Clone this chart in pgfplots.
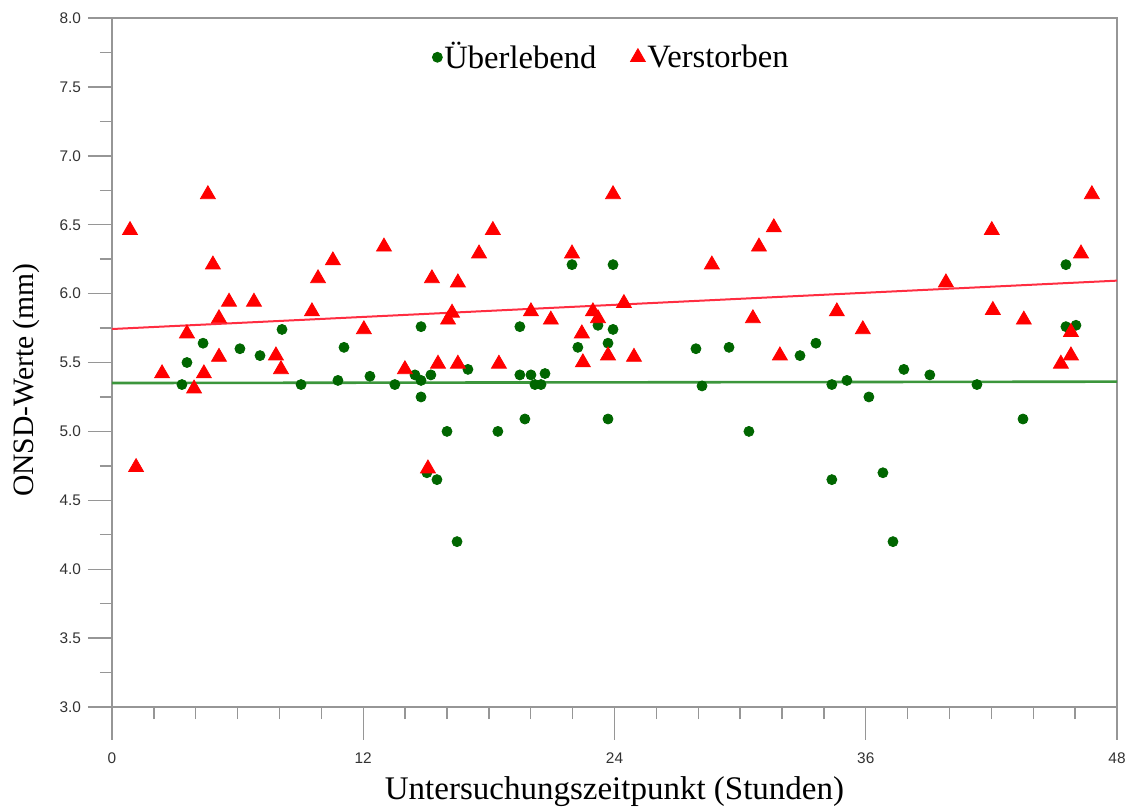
\documentclass[border=0pt]{standalone}
\usepackage{pgfplots}
\pgfplotsset{compat=1.18}
\usepackage{fontspec}
\setmainfont{Liberation Serif}
\newfontfamily\ticksf{Liberation Sans}
\definecolor{dkgreen}{RGB}{0,102,0}
\definecolor{ptred}{RGB}{255,0,0}
\definecolor{linered}{RGB}{255,45,65}
\definecolor{linegreen}{RGB}{60,150,60}
\definecolor{axgray}{RGB}{150,150,150}
\definecolor{tickgray}{RGB}{50,50,50}

\pgfplotstableread{
t v
3.34 5.34
3.58 5.50
4.35 5.64
6.11 5.60
7.07 5.55
8.12 5.74
9.03 5.34
10.79 5.37
11.08 5.61
12.32 5.40
13.51 5.34
14.47 5.41
14.76 5.76
14.76 5.37
14.76 5.25
15.04 4.70
15.23 5.41
15.52 4.65
16.00 5.00
16.48 4.20
17.00 5.45
18.43 5.00
19.48 5.76
19.48 5.41
19.72 5.09
20.01 5.41
20.20 5.34
20.49 5.34
20.68 5.42
21.97 6.21
22.25 5.61
23.21 5.77
23.69 5.64
23.69 5.09
23.93 6.21
23.93 5.74
27.89 5.60
28.18 5.33
29.47 5.61
30.42 5.00
32.86 5.55
33.62 5.64
34.38 5.34
34.38 4.65
35.10 5.37
36.15 5.25
36.82 4.70
37.30 4.20
37.82 5.45
39.06 5.41
41.31 5.34
43.51 5.09
45.56 6.21
45.56 5.76
46.04 5.77
}\surv

\pgfplotstableread{
t v
0.86 6.46
1.15 4.74
2.39 5.42
3.58 5.71
3.92 5.31
4.39 5.42
4.58 6.72
4.82 6.21
5.11 5.82
5.11 5.54
5.59 5.94
6.78 5.94
7.83 5.55
8.07 5.45
9.55 5.87
9.84 6.11
10.55 6.24
12.03 5.74
12.99 6.34
13.99 5.45
15.09 4.73
15.28 6.11
15.57 5.49
16.05 5.81
16.24 5.86
16.52 6.08
16.52 5.49
17.53 6.29
18.19 6.46
18.48 5.49
20.01 5.87
20.96 5.81
21.97 6.29
22.44 5.71
22.49 5.50
22.97 5.87
23.21 5.82
23.69 5.55
23.93 6.72
24.45 5.93
24.93 5.54
28.65 6.21
30.61 5.82
30.90 6.34
31.61 6.48
31.90 5.55
34.62 5.87
35.86 5.74
39.83 6.08
42.02 6.46
42.07 5.88
43.55 5.81
45.32 5.49
45.80 5.55
45.80 5.72
46.28 6.29
46.80 6.72
}\dead

\begin{document}
\begin{tikzpicture}
\begin{axis}[
  scale only axis,
  width=502.5pt, height=344.5pt,
  xmin=0, xmax=48, ymin=3, ymax=8,
  axis line style={draw=axgray, line width=0.7pt},
  xtick={0,12,...,48},
  minor x tick num=5,
  xtick pos=bottom,
  ytick={3,3.5,...,8},
  minor y tick num=1,
  ytick pos=left,
  tick align=outside,
  major tick length=12pt,
  minor tick length=6pt,
  every tick/.style={draw=axgray, line width=0.7pt},
  yticklabel style={font=\ticksf\fontsize{7.7}{9}\selectfont, text=tickgray},
  xticklabel style={font=\ticksf\fontsize{7.7}{9}\selectfont, text=tickgray, yshift=-7.5pt},
  /pgf/number format/assume math mode=true,
  y tick label style={/pgf/number format/.cd, fixed, fixed zerofill, precision=1},
  ylabel={ONSD-Werte (mm)},
  ylabel style={at={(axis description cs:-0.0856,0.4746)}, anchor=center, font=\fontsize{14.8}{18}\selectfont, text=black},
  xlabel={Untersuchungszeitpunkt (Stunden)},
  xlabel style={at={(axis description cs:0.5,-0.1234)}, anchor=center, font=\fontsize{16.5}{20}\selectfont, text=black},
  legend columns=2,
  legend style={at={(axis description cs:0.497,0.943)}, anchor=center, draw=none, fill=none,
    font=\fontsize{16.3}{19}\selectfont, inner sep=0pt,
    /tikz/every even column/.append style={column sep=16pt},
    nodes={inner sep=1pt}},
  legend image code/.code={\draw[#1] plot coordinates {(0pt,0pt)};},
  clip=false,
  unbounded coords=jump,
]
% long major x ticks (every 12 h), drawn below the axis
\addplot[forget plot, draw=axgray, line width=0.7pt] coordinates {
  (0,3) (0,2.7605) (0,nan)
  (12,3) (12,2.7605) (12,nan)
  (24,3) (24,2.7605) (24,nan)
  (36,3) (36,2.7605) (36,nan)
  (48,3) (48,2.7605)};
\addplot[forget plot, linegreen, line width=1.3pt] coordinates {(0,5.351) (48,5.361)};
\addplot[forget plot, linered, line width=1pt] coordinates {(0,5.743) (48,6.094)};
\addplot[only marks, mark=*, mark size=2.5pt, draw=dkgreen, fill=dkgreen] table[x=t,y=v] {\surv};
\addlegendentry{Überlebend}
\addplot[only marks, mark=triangle*, mark size=4.3pt, draw=ptred, fill=ptred] table[x=t,y=v] {\dead};
\addlegendentry{Verstorben}
\end{axis}
\pgfresetboundingbox
\path[use as bounding box] (-56pt,-51.5pt) rectangle (506.5pt,353.5pt);
\end{tikzpicture}
\end{document}
